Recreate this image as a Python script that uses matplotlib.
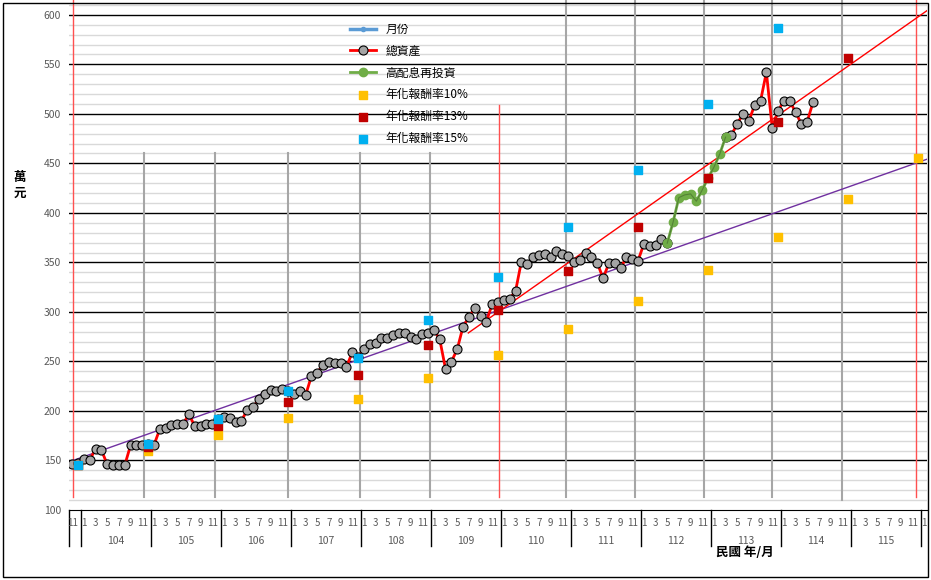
import numpy as np
import matplotlib
matplotlib.use("Agg")
import matplotlib.pyplot as plt
from matplotlib.patches import Rectangle

plt.rcParams['font.family'] = ['Noto Sans CJK TC', 'DejaVu Sans']

# ---- data ----
years = [104, 105, 106, 107, 108, 109, 110, 111, 112, 113, 114, 115]
# categories: 103/11, 103/12, 104/1 ... 115/12, 116/1
cat_year = [103, 103] + [y for y in years for _ in range(12)] + [116]
cat_month = [11, 12] + [m for _ in years for m in range(1, 13)] + [1]

total_assets = [146.5, 147, 151.2, 150.5, 161.6, 160.6, 146.1, 145.1, 145.1, 145.1,
                165.3, 166, 165.3, 167, 165.3, 181.5, 182.5, 185.9, 186.9, 186.9,
                196.6, 184.8, 184.8, 186.9, 186.9, 192, 194.3, 192.6, 189, 190,
                201, 203.7, 212, 217.2, 221.2, 219.9, 222.5, 220, 216.9, 220.2,
                215.8, 235, 238.7, 246.5, 249.2, 248.2, 248.2, 244.1, 259.3, 255,
                262.3, 267.4, 268.4, 273.4, 273.4, 276.8, 279.1, 279.1, 275.1, 272.7,
                277.5, 279.1, 281.8, 272.4, 242.4, 249.8, 262.3, 285.2, 294.6, 303.7,
                296.3, 290.2, 308.1, 310.4, 312.1, 313.5, 321, 350.8, 348.5, 355.2,
                357.6, 358.6, 355.2, 361.6, 358.6, 356.6, 350.2, 352.5, 359.3, 355.2,
                349.8, 334, 349.1, 349.1, 344.1, 355.2, 353.5, 351.8, 368.7, 366.7,
                367.7, 373.7, 369.4, None, None, None, None, None, None, None,
                None, None, 476.5, 478.5, 489.9, 500, 492.9, 509.1, 513.1, 542.1,
                485.9, 503, 513.1, 513.1, 501.7, 489.9, 492.2, 511.8]
high_div_start = 102
high_div = [369.4, 390.6, 415.5, 418.2, 419.2, 411.8, 423.2, 435, 446.1, 459.3, 476.5]

ret_idx = [1, 13, 25, 37, 49, 61, 73, 85, 97, 109, 121, 133, 145]
ret10 = [145, 159.5, 175.4, 193.0, 212.3, 233.5, 256.9, 282.6, 310.8, 341.9, 376.0, 413.6, 455.0]
ret13 = [145, 163.9, 185.1, 209.2, 236.4, 267.1, 301.8, 341.1, 385.4, 435.5, 492.1, 556.1]
ret15 = [145, 166.8, 191.8, 220.5, 253.6, 291.6, 335.4, 385.7, 443.5, 510.0, 586.5]

gray_lines = [12.36, 24.43, 37.0, 49.3, 61.3, 84.6, 96.5, 108.3, 120.0, 132.0]
gray_tops = [460.6, 460.6, 460.6, 460.6, 460.6, 615, 615, 615, 615, 615]
gray_bottoms = [113, 113, 113, 113, 113, 113, 113, 113, 113, 110]
red_lines = [0.19, 73.1, 144.7]
red_tops = [615, 509, 615]

trend_purple_x = [-0.5, 147]
trend_purple_y = [148.7, 455.2]
trend_red_x = [67.9, 147]
trend_red_y = [278.8, 606.2]

# ---- figure ----
fig = plt.figure(figsize=(9.31, 5.80), dpi=100)
fig.patches.append(Rectangle((0.003, 0.005), 0.994, 0.99, transform=fig.transFigure,
                             fill=False, edgecolor='black', linewidth=1))
ax = fig.add_axes([69.3 / 931, 70 / 580, (926.8 - 69.3) / 931, 510 / 580])
n = len(cat_month)
x = np.arange(n)
ax.set_xlim(-0.5, n - 0.5)
ax.set_ylim(100, 615)

# grid
for v in range(110, 611, 10):
    if v % 50:
        ax.axhline(v, color='#d9d9d9', lw=1, zorder=0)
for v in range(150, 601, 50):
    ax.axhline(v, color='black', lw=1, zorder=0.5)

for gx, gt, gb in zip(gray_lines, gray_tops, gray_bottoms):
    ax.plot([gx, gx], [gb, gt], color='#a6a6a6', lw=1.5, zorder=1)
for rx, rt in zip(red_lines, red_tops):
    ax.plot([rx, rx], [113, rt], color='#ff5050', lw=1, zorder=1)

ax.plot(trend_purple_x, trend_purple_y, color='#7030a0', lw=1, zorder=2)
ax.plot(trend_red_x, trend_red_y, color='#ff0000', lw=1, zorder=2)

ta = np.array([np.nan if v is None else v for v in total_assets], float)
ax.plot([], [], color='#5b9bd5', lw=2.5, marker='o', ms=3, label='月份')
ax.plot(np.arange(len(ta)), ta, color='#ff0000', lw=2, marker='o', ms=6.5,
        markerfacecolor='#a5a5a5', markeredgecolor='black', markeredgewidth=0.8,
        zorder=4, label='總資產')
hx = np.arange(high_div_start, high_div_start + len(high_div))
ax.plot(hx, high_div, color='#70ad47', lw=2, marker='o', ms=6, zorder=4.5,
        markeredgecolor='#70ad47', label='高配息再投資')
ax.plot(hx, high_div, color='#548235', lw=0.8, zorder=4.6)
ax.scatter(ret_idx[:len(ret10)], ret10, marker='s', s=36, color='#ffc000', zorder=5, label='年化報酬率10%')
ax.scatter(ret_idx[:len(ret13)], ret13, marker='s', s=36, color='#c00000', zorder=5, label='年化報酬率13%')
ax.scatter(ret_idx[:len(ret15)], ret15, marker='s', s=36, color='#00b0f0', zorder=5, label='年化報酬率15%')

leg = ax.legend(loc='upper left', bbox_to_anchor=(345 / 931, 1 - 18 / 580), bbox_transform=fig.transFigure,
                frameon=False, fontsize=8.5, handlelength=2.2, labelspacing=0.75, borderaxespad=0)

# axes styling
for s in ['top', 'right', 'left']:
    ax.spines[s].set_visible(False)
ax.spines['bottom'].set_color('black')
ax.set_yticks(range(100, 601, 50))
ax.tick_params(axis='y', length=0, labelsize=7.5, labelcolor='#595959', pad=6)
ax.set_xticks([])

# two-level x labels
for i in range(n):
    m = cat_month[i]
    if m % 2 == 1:
        ax.text(i, -0.015, str(m), transform=ax.get_xaxis_transform(), ha='center', va='top',
                fontsize=7, color='#595959')
bounds = [-0.5, 1.5] + [1.5 + 12 * (k + 1) for k in range(len(years))] + [n - 0.5]
for b in bounds[:-1]:
    ax.plot([b, b], [0, -0.07], transform=ax.get_xaxis_transform(), color='black', lw=1, clip_on=False)
for k, yv in enumerate(years):
    ax.text(1.5 + 12 * k + 6, -0.05, str(yv), transform=ax.get_xaxis_transform(), ha='center', va='top',
            fontsize=7.5, color='#595959')

fig.text(20 / 931, 1 - 185 / 580, '萬\n元', ha='center', va='center', fontsize=9, fontweight='bold', linespacing=1.3)
fig.text(745 / 931, 1 - 553 / 580, '民國 年/月', ha='center', va='center', fontsize=9, fontweight='bold')

fig.savefig('out.png', dpi=100)
